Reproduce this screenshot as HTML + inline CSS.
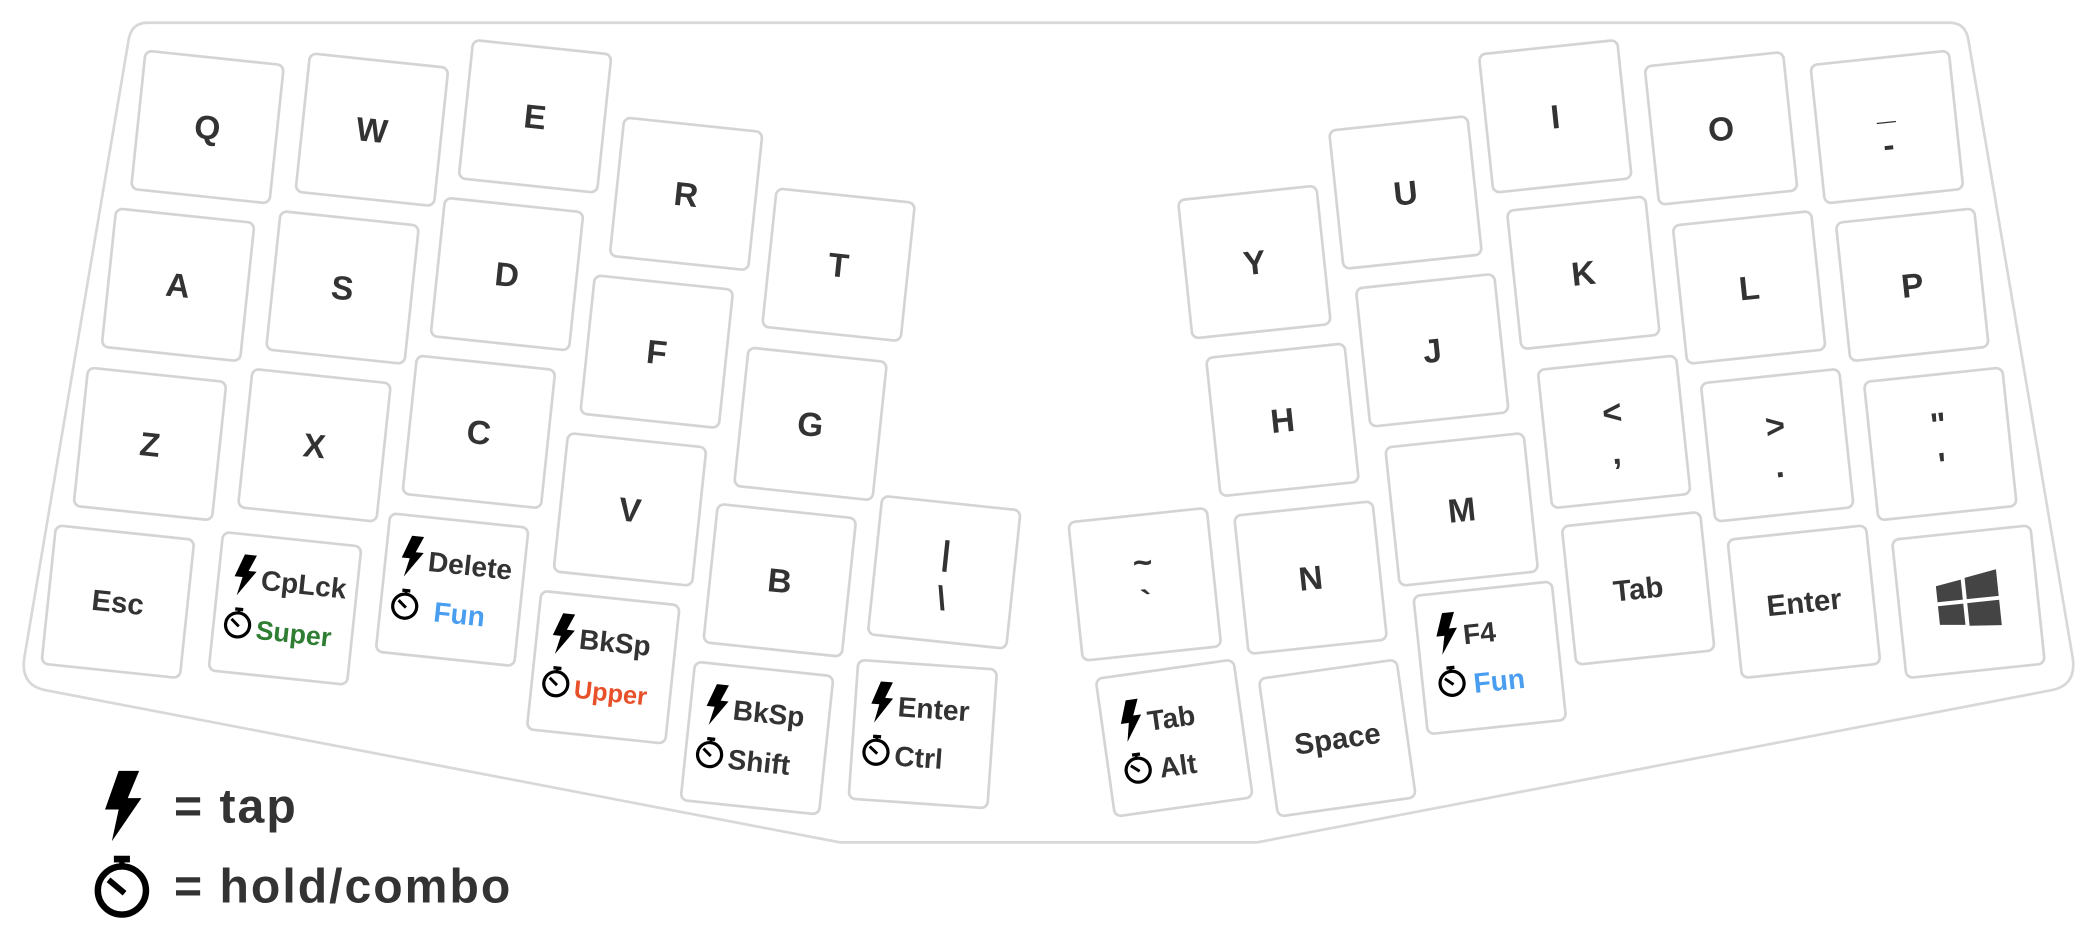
<!DOCTYPE html>
<html><head><meta charset="utf-8"><style>
html,body{margin:0;padding:0;background:#fff;}
svg{display:block}
text{font-family:"Liberation Sans",sans-serif;font-weight:bold;fill:#333;}
</style></head><body>
<svg width="2097" height="948" viewBox="0 0 1568 709" xmlns="http://www.w3.org/2000/svg">
<defs>
<g id="bolt"><path d="M-2 -15 H7 L2 -3 H8 L-5 16 L-2 2 H-8 Z" fill="#000"/></g>
<g id="watch"><circle cx="0" cy="2" r="9" fill="none" stroke="#000" stroke-width="2.4"/><rect x="-3" y="-11" width="6" height="2.5" fill="#000"/><rect x="-1" y="-9" width="2" height="3" fill="#000"/><path d="M-5 -2 L1 3" stroke="#000" stroke-width="2.2"/></g>
<rect id="k" x="-52" y="-52" width="104" height="104" rx="5" fill="#fff" stroke="#d4d4d4" stroke-width="2"/>
</defs>
<path d="M110 17 H1458 Q1470 17 1472 30 L1550 492 Q1553 512 1535 516 L940 630 H628 L33 516 Q15 512 18 492 L96 30 Q98 17 110 17 Z" fill="#fff" stroke="#d8d8d8" stroke-width="2"/>

<g font-size="25" text-anchor="middle">
<g transform="translate(155,95) rotate(6)"><use href="#k"/><text y="9">Q</text></g>
<g transform="translate(278,97) rotate(6)"><use href="#k"/><text y="9">W</text></g>
<g transform="translate(400,87) rotate(6)"><use href="#k"/><text y="9">E</text></g>
<g transform="translate(513,145) rotate(6)"><use href="#k"/><text y="9">R</text></g>
<g transform="translate(627,198) rotate(6)"><use href="#k"/><text y="9">T</text></g>
<g transform="translate(133,213) rotate(6)"><use href="#k"/><text y="9">A</text></g>
<g transform="translate(256,215) rotate(6)"><use href="#k"/><text y="9">S</text></g>
<g transform="translate(379,205) rotate(6)"><use href="#k"/><text y="9">D</text></g>
<g transform="translate(491,263) rotate(6)"><use href="#k"/><text y="9">F</text></g>
<g transform="translate(606,317) rotate(6)"><use href="#k"/><text y="9">G</text></g>
<g transform="translate(112,332) rotate(6)"><use href="#k"/><text y="9">Z</text></g>
<g transform="translate(235,333) rotate(6)"><use href="#k"/><text y="9">X</text></g>
<g transform="translate(358,323) rotate(6)"><use href="#k"/><text y="9">C</text></g>
<g transform="translate(471,381) rotate(6)"><use href="#k"/><text y="9">V</text></g>
<g transform="translate(583,434) rotate(6)"><use href="#k"/><text y="9">B</text></g>
<g transform="translate(706,428) rotate(6)"><use href="#k"/><text y="-6" font-weight="normal">|</text><text y="28" font-weight="normal">\</text></g>
<g transform="translate(88,450) rotate(6)"><use href="#k"/><text y="8" font-size="22">Esc</text></g>
</g>

<g font-size="21">
<g transform="translate(213,455) rotate(6)"><use href="#k"/><use href="#bolt" x="-32" y="-22"/><text x="-20" y="-12">CpLck</text><use href="#watch" x="-34" y="14"/><text x="-20" y="25" style="fill:#2e7d32" font-size="20">Super</text></g>
<g transform="translate(338,441) rotate(6)"><use href="#k"/><use href="#bolt" x="-32" y="-22"/><text x="-20" y="-12">Delete</text><use href="#watch" x="-34" y="14"/><text x="-12" y="25" style="fill:#4a9eef">Fun</text></g>
<g transform="translate(451,499) rotate(6)"><use href="#k"/><use href="#bolt" x="-32" y="-22"/><text x="-20" y="-12">BkSp</text><use href="#watch" x="-34" y="14"/><text x="-20" y="25" style="fill:#e8502a" font-size="19">Upper</text></g>
<g transform="translate(566,552) rotate(6)"><use href="#k"/><use href="#bolt" x="-32" y="-22"/><text x="-20" y="-12">BkSp</text><use href="#watch" x="-34" y="14"/><text x="-20" y="25">Shift</text></g>
<g transform="translate(690,549) rotate(4)"><use href="#k"/><use href="#bolt" x="-32" y="-22"/><text x="-20" y="-12">Enter</text><use href="#watch" x="-34" y="14"/><text x="-20" y="25">Ctrl</text></g>
</g>

<g font-size="25" text-anchor="middle">
<g transform="translate(938,196) rotate(-6)"><use href="#k"/><text y="9">Y</text></g>
<g transform="translate(1051,144) rotate(-6)"><use href="#k"/><text y="9">U</text></g>
<g transform="translate(1163,87) rotate(-6)"><use href="#k"/><text y="9">I</text></g>
<g transform="translate(1287,96) rotate(-6)"><use href="#k"/><text y="9">O</text></g>
<g transform="translate(1411,95) rotate(-6)"><use href="#k"/><text y="-6">_</text><text y="22">-</text></g>
<g transform="translate(959,314) rotate(-6)"><use href="#k"/><text y="9">H</text></g>
<g transform="translate(1071,262) rotate(-6)"><use href="#k"/><text y="9">J</text></g>
<g transform="translate(1184,204) rotate(-6)"><use href="#k"/><text y="9">K</text></g>
<g transform="translate(1308,215) rotate(-6)"><use href="#k"/><text y="9">L</text></g>
<g transform="translate(1430,213) rotate(-6)"><use href="#k"/><text y="9">P</text></g>
<g transform="translate(856,437) rotate(-6)"><use href="#k"/><text y="-8">~</text><text y="22">`</text></g>
<g transform="translate(980,432) rotate(-6)"><use href="#k"/><text y="9">N</text></g>
<g transform="translate(1093,381) rotate(-6)"><use href="#k"/><text y="9">M</text></g>
<g transform="translate(1207,323) rotate(-6)"><use href="#k"/><text y="-6">&lt;</text><text y="24">,</text></g>
<g transform="translate(1329,333) rotate(-6)"><use href="#k"/><text y="-6">&gt;</text><text y="24">.</text></g>
<g transform="translate(1451,332) rotate(-6)"><use href="#k"/><text y="-6">"</text><text y="24">'</text></g>
<g transform="translate(1000,552) rotate(-8)"><use href="#k"/><text y="8" font-size="22">Space</text></g>
<g transform="translate(1225,440) rotate(-6)"><use href="#k"/><text y="8" font-size="22">Tab</text></g>
<g transform="translate(1349,450) rotate(-6)"><use href="#k"/><text y="8" font-size="22">Enter</text></g>
<g transform="translate(1472,450) rotate(-6)"><use href="#k"/>
<g fill="#444"><path d="M-23 -14 L-4 -17 V-2 H-23 Z"/><path d="M-1 -18 L23 -22 V-2 H-1 Z"/><path d="M-23 1 H-4 V17 L-23 15 Z"/><path d="M-1 1 H23 V20 L-1 18 Z"/></g></g>
</g>
<g font-size="21">
<g transform="translate(878,552) rotate(-8)"><use href="#k"/><use href="#bolt" x="-30" y="-18"/><text x="-18" y="-8">Tab</text><use href="#watch" x="-30" y="18"/><text x="-14" y="28">Alt</text></g>
<g transform="translate(1114,492) rotate(-6)"><use href="#k"/><use href="#bolt" x="-30" y="-22"/><text x="-18" y="-12">F4</text><use href="#watch" x="-30" y="14"/><text x="-14" y="25" style="fill:#4a9eef">Fun</text></g>
</g>

<g transform="translate(92,602) scale(1.7)"><use href="#bolt"/></g>
<text x="130" y="615" font-size="36" letter-spacing="1.5">= tap</text>
<g transform="translate(91,662) scale(2)"><use href="#watch"/></g>
<text x="130" y="675" font-size="36" letter-spacing="1.5">= hold/combo</text>
</svg>
</body></html>
